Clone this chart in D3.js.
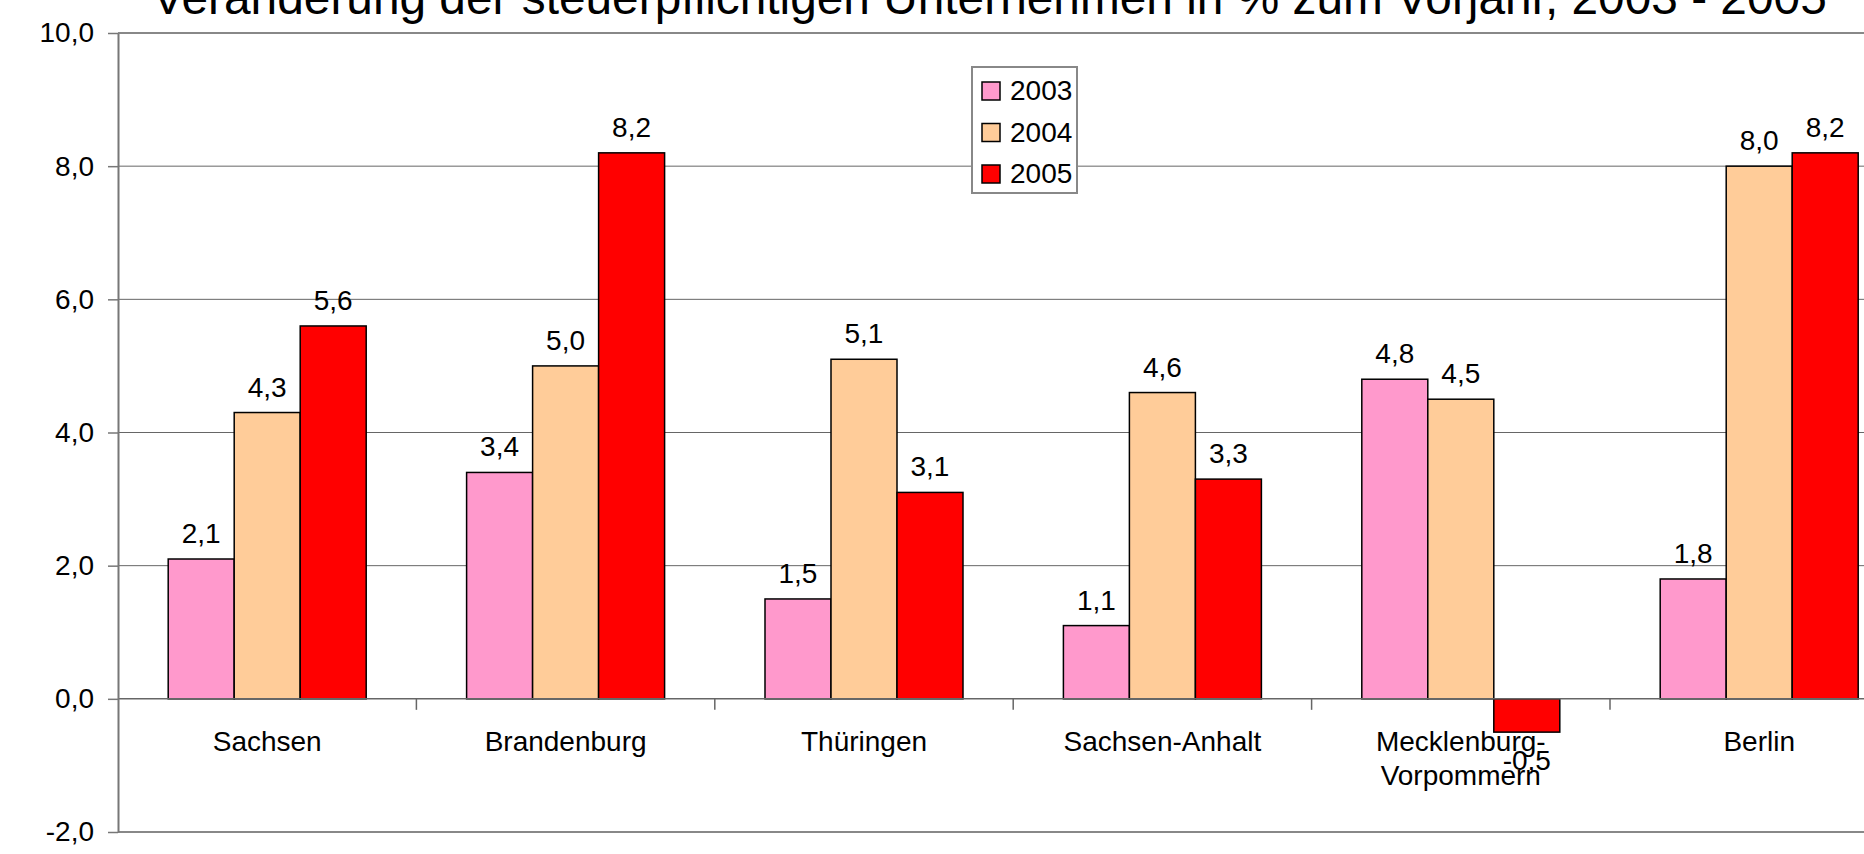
<!DOCTYPE html>
<html>
<head>
<meta charset="utf-8">
<script src="https://cdn.jsdelivr.net/npm/d3@7"></script>
<style>
  html, body { margin: 0; padding: 0; background: #fff; overflow: hidden; }
  svg { display: block; font-family: "Liberation Sans", Arial, sans-serif; }
</style>
</head>
<body>
<svg id="chart"></svg>
<script>
// Daten
const titleText = "Veränderung der steuerpflichtigen Unternehmen in % zum Vorjahr, 2003 - 2005";
const categories = ["Sachsen", "Brandenburg", "Thüringen", "Sachsen-Anhalt", "Mecklenburg-\nVorpommern", "Berlin"];
const years = ["2003", "2004", "2005"];
const v2003 = [2.1, 3.4, 1.5, 1.1, 4.8, 1.8];
const v2004 = [4.3, 5.0, 5.1, 4.6, 4.5, 8.0];
const v2005 = [5.6, 8.2, 3.1, 3.3, -0.5, 8.2];
const yTicks = [-2, 0, 2, 4, 6, 8, 10];
const colors = ["#ff99cc", "#ffcc99", "#ff0000"];

const W = 1864, H = 854;
const plot = { left: 118, top: 33, bottom: 832, band: 298.4 };
const fontSize = 28;

const svg = d3.select("#chart").attr("width", W).attr("height", H);

const series = [v2003, v2004, v2005];
const rows = categories.map((c, i) => ({
  cat: c,
  vals: years.map((yr, j) => ({ year: yr, value: series[j][i] }))
}));

// Skalen
const x0 = d3.scaleBand()
  .domain(categories)
  .range([plot.left, plot.left + plot.band * categories.length])
  .padding(0);

const gap = 50.2;
const x1 = d3.scaleBand()
  .domain(years)
  .range([gap, plot.band - gap])
  .padding(0);

const y = d3.scaleLinear().domain([-2, 10]).range([plot.bottom, plot.top]);
const color = d3.scaleOrdinal().domain(years).range(colors);
// Komma als Dezimaltrenner, normales Minus
const fmt = d => d3.format(".1f")(d).replace(".", ",").replace("\u2212", "-");
const rightEdge = x0.range()[1];

// Gitterlinien
svg.append("g")
  .selectAll("line")
  .data(yTicks.filter(t => t !== 0 && t !== -2 && t !== 10))
  .join("line")
  .attr("x1", plot.left).attr("x2", rightEdge)
  .attr("y1", d => y(d)).attr("y2", d => y(d))
  .attr("stroke", "#666").attr("stroke-width", 1);

// Rahmen oben/unten
svg.append("g")
  .selectAll("line")
  .data([10, -2])
  .join("line")
  .attr("x1", plot.left).attr("x2", rightEdge)
  .attr("y1", d => y(d)).attr("y2", d => y(d))
  .attr("stroke", "#888").attr("stroke-width", 2);

// Balken
const groups = svg.append("g")
  .selectAll("g")
  .data(rows)
  .join("g")
  .attr("transform", d => `translate(${x0(d.cat)},0)`);

groups.selectAll("rect")
  .data(d => d.vals)
  .join("rect")
  .attr("x", d => x1(d.year))
  .attr("width", x1.bandwidth())
  .attr("y", d => y(Math.max(0, d.value)))
  .attr("height", d => Math.abs(y(d.value) - y(0)))
  .attr("fill", d => color(d.year))
  .attr("stroke", "#000")
  .attr("stroke-width", 1.5);

// Nulllinie + Kategorie-Trennstriche
svg.append("line")
  .attr("x1", plot.left).attr("x2", rightEdge)
  .attr("y1", y(0)).attr("y2", y(0))
  .attr("stroke", "#666").attr("stroke-width", 1.5);

svg.append("g")
  .selectAll("line")
  .data(categories.slice(1))
  .join("line")
  .attr("x1", d => x0(d)).attr("x2", d => x0(d))
  .attr("y1", y(0)).attr("y2", y(0) + 11)
  .attr("stroke", "#666").attr("stroke-width", 1.5);

// y-Achse
const yAxis = svg.append("g")
  .attr("transform", `translate(${plot.left},0)`)
  .call(d3.axisLeft(y).tickValues(yTicks).tickSize(10).tickPadding(14).tickSizeOuter(0).tickFormat(fmt));
yAxis.select(".domain").attr("stroke", "#777").attr("stroke-width", 2);
yAxis.selectAll(".tick line").attr("stroke", "#777").attr("stroke-width", 1.5);
yAxis.selectAll(".tick text")
  .attr("fill", "#000")
  .style("font-size", fontSize + "px")
  .style("font-family", "'Liberation Sans', Arial, sans-serif");

// Kategorie-Beschriftungen
const catLabels = svg.append("g")
  .selectAll("text")
  .data(categories)
  .join("text")
  .attr("text-anchor", "middle")
  .attr("font-size", fontSize)
  .attr("fill", "#000")
  .attr("y", 751);
catLabels.each(function (d) {
  const lines = d.split("\n");
  const t = d3.select(this);
  lines.forEach((ln, i) => {
    t.append("tspan")
      .attr("x", x0(d) + x0.bandwidth() / 2)
      .attr("dy", i === 0 ? 0 : 34)
      .text(ln);
  });
});

// Werte-Beschriftungen
groups.selectAll("text.val")
  .data(d => d.vals)
  .join("text")
  .attr("class", "val")
  .attr("x", d => x1(d.year) + x1.bandwidth() / 2)
  .attr("y", d => d.value >= 0 ? y(d.value) - 16 : y(d.value) + 38)
  .attr("text-anchor", "middle")
  .attr("font-size", fontSize)
  .attr("fill", "#000")
  .text(d => fmt(d.value));

// Legende
const legend = svg.append("g").attr("transform", "translate(972,67)");
legend.append("rect")
  .attr("width", 105).attr("height", 126)
  .attr("fill", "#fff").attr("stroke", "#888").attr("stroke-width", 2);
const li = legend.selectAll("g")
  .data(years)
  .join("g")
  .attr("transform", (d, i) => `translate(10,${15 + i * 41.5})`);
li.append("rect")
  .attr("width", 18).attr("height", 18)
  .attr("fill", d => color(d)).attr("stroke", "#000").attr("stroke-width", 1.5);
li.append("text")
  .attr("x", 28).attr("y", 18)
  .attr("font-size", fontSize)
  .attr("fill", "#000")
  .text(d => d);

// Titel (oben angeschnitten)
const title = svg.append("text")
  .attr("x", 989.5).attr("y", 13.5)
  .attr("text-anchor", "middle")
  .attr("font-size", 44)
  .attr("fill", "#000")
  .text(titleText);
const tw = title.node().getComputedTextLength();
title.attr("font-size", 44 * 1675 / tw);
</script>
</body>
</html>
